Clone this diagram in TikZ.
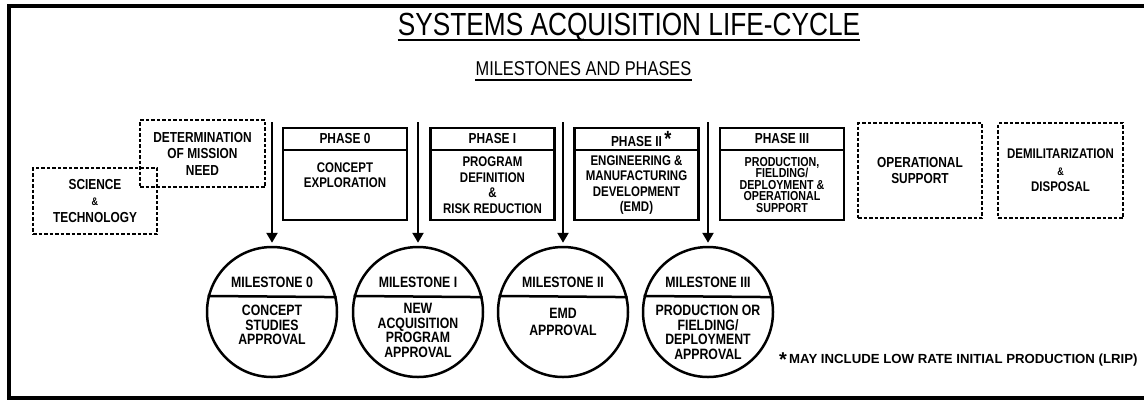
\documentclass[tikz,border=0pt]{standalone}
\usepackage{fontspec}
\setmainfont{Liberation Sans}[FakeStretch=0.82]
\newfontfamily\plainsans{Liberation Sans}
\usetikzlibrary{positioning, arrows.meta}

\tikzstyle{phase-head}=[
draw,
line width=2.5pt,
minimum width=124pt,
minimum height=22pt,
inner sep=0pt,
outer sep=0pt,
font=\bfseries\fontsize{14.5}{15}\selectfont,
]
\tikzstyle{phase-body}=[
draw,
line width=2.5pt,
minimum width=124pt,
minimum height=70pt,
inner sep=0pt,
outer sep=0pt,
align=center,
font=\bfseries\fontsize{14}{15.5}\selectfont,
]
\tikzstyle{dotted-box}=[
draw,
line width=2.5pt,
dash pattern=on 3.5pt off 2pt,
inner sep=0pt,
align=center,
font=\bfseries\fontsize{14.5}{16.5}\selectfont,
]
\tikzstyle{milestone}=[circle, draw, line width=2.5pt, minimum size=130pt, inner sep=0pt]
\tikzstyle{ms-text}=[align=center, inner sep=0pt, font=\bfseries\fontsize{15}{14.5}\selectfont]
\tikzstyle{mile-arrow}=[line width=2.5pt, -{Triangle[width=11pt,length=10pt]}, shorten >=3pt]

\begin{document}
\begin{tikzpicture}
        [x=1pt, y=-1pt]
        \useasboundingbox (0,0) rectangle (1144,400);
        \draw[line width=4pt] (1150,6) -- (9,6) -- (9,398) -- (1150,398);

        \node[inner sep=0pt, anchor=base, font=\fontsize{32}{32}\selectfont] (title) at (629,35) {SYSTEMS ACQUISITION LIFE-CYCLE};
        \draw[line width=2pt] ([yshift=-5pt]title.base west) -- ([yshift=-5pt]title.base east);
        \node[inner sep=0pt, anchor=base, font=\fontsize{20}{20}\selectfont] (subtitle) at (583.5,75) {MILESTONES AND PHASES};
        \draw[line width=1.5pt] ([yshift=-5pt]subtitle.base west) -- ([yshift=-5pt]subtitle.base east);

        \begin{scope}[every node/.style=dotted-box]
          \node[minimum width=124pt, minimum height=66pt] (sci) at (95,201) {SCIENCE\\{\fontsize{11}{11}\selectfont\&}\\TECHNOLOGY};
          \node[minimum width=125pt, minimum height=67pt] (need) at (202.5,153.5) {DETERMINATION\\OF MISSION\\NEED};
          \node[minimum width=124pt, minimum height=95pt] (ops) at (920,170.5) {OPERATIONAL\\SUPPORT};
          \node[minimum width=125pt, minimum height=95pt, font=\bfseries\fontsize{14}{16.5}\selectfont] (demil) at (1060.5,170.5) {DEMILITARIZATION\\{\fontsize{11}{11}\selectfont\&}\\DISPOSAL};
        \end{scope}

        \node[phase-head] (ph0) at (345,139) {PHASE 0};
        \node[phase-body, below=0pt of ph0] (p0) {CONCEPT\\EXPLORATION\\[4pt]};
        \node[phase-head] (ph1) at (492.5,139) {PHASE I};
        \node[phase-body, below=0pt of ph1] (p1) {PROGRAM\\DEFINITION\\\&\\RISK REDUCTION};
        \node[phase-head] (ph2) at (636.5,139) {PHASE II\rlap{\,\raisebox{0.5pt}{\fontsize{22}{22}\selectfont *}}};
        \node[phase-body, below=0pt of ph2] (p2) {ENGINEERING \&\\MANUFACTURING\\DEVELOPMENT\\(EMD)};
        \node[phase-head] (ph3) at (782,139) {PHASE III};
        \node[phase-body, below=0pt of ph3, font=\bfseries\fontsize{13}{11.5}\selectfont] (p3) {PRODUCTION,\\FIELDING/\\DEPLOYMENT \&\\OPERATIONAL\\SUPPORT};

        \node[milestone] (m0) at (272,312) {};
        \node[milestone] (m1) at (418,312) {};
        \node[milestone] (m2) at (563,312) {};
        \node[milestone] (m3) at (708,312) {};
        \draw[line width=2.5pt] (m0.13.3) -- (m0.166.7);
        \draw[line width=2.5pt] (m1.13.3) -- (m1.166.7);
        \draw[line width=2.5pt] (m2.13.3) -- (m2.166.7);
        \draw[line width=2.5pt] (m3.13.3) -- (m3.166.7);

        \begin{scope}[every node/.style=ms-text]
          \node (m0-head) at (272,282) {MILESTONE 0};
          \node (m1-head) at (418,282) {MILESTONE I};
          \node (m2-head) at (563,282) {MILESTONE II};
          \node (m3-head) at (708,282) {MILESTONE III};
          \node[anchor=north] (m0-body) at (272,305) {CONCEPT\\STUDIES\\APPROVAL};
          \node[anchor=north] (m1-body) at (418,303) {NEW\\ACQUISITION\\PROGRAM\\APPROVAL};
          \node[anchor=north] (m2-body) at (563,308) {EMD\\[2pt]APPROVAL};
          \node[anchor=north] (m3-body) at (708,305) {PRODUCTION OR\\FIELDING/\\DEPLOYMENT\\APPROVAL};
        \end{scope}

        \coordinate (a0) at (272,122);
        \coordinate (a1) at (418,122);
        \coordinate (a2) at (563,122);
        \coordinate (a3) at (708,122);
        \draw[mile-arrow] (a0) -- (m0);
        \draw[mile-arrow] (a1) -- (m1);
        \draw[mile-arrow] (a2) -- (m2);
        \draw[mile-arrow] (a3) -- (m3);

        \node[inner sep=0pt, anchor=base west, font=\plainsans\bfseries\fontsize{13.2}{13.2}\selectfont] (lrip) at (779,363) {\raisebox{-3pt}{\fontsize{20}{20}\selectfont *}\,MAY INCLUDE LOW RATE INITIAL PRODUCTION (LRIP)};
      \end{tikzpicture}
\end{document}
